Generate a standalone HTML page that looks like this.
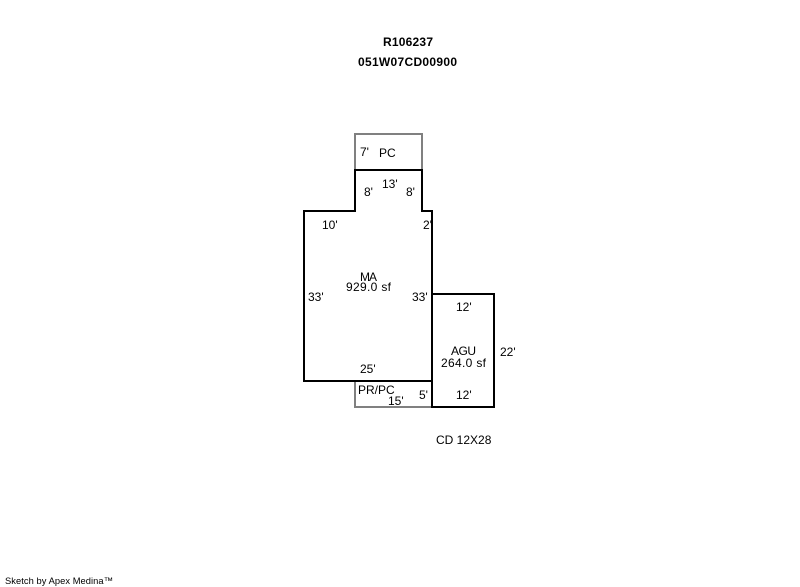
<!DOCTYPE html>
<html>
<head>
<meta charset="utf-8">
<style>
html,body{margin:0;padding:0;background:#fff;}
body{width:800px;height:587px;overflow:hidden;position:relative;}
svg{position:absolute;left:0;top:0;}
text{font-family:"Liberation Sans",Arial,sans-serif;font-size:12px;fill:#000;}
</style>
</head>
<body>
<svg width="800" height="587" viewBox="0 0 800 587" xmlns="http://www.w3.org/2000/svg">
<g fill="none" stroke="#808080" stroke-width="2" shape-rendering="crispEdges">
<path d="M355 170V134H422V170"/>
<path d="M355 381V407H432"/>
</g>
<g fill="none" stroke="#000" stroke-width="2" shape-rendering="crispEdges">
<path d="M355 170H422V211H432V381H304V211H355Z"/>
<path d="M432 294H494V407H432Z"/>
</g>
<text x="383" y="46" textLength="50" lengthAdjust="spacing" style="font-weight:bold">R106237</text>
<text x="358" y="66" textLength="99" lengthAdjust="spacing" style="font-weight:bold">051W07CD00900</text>
<text x="360" y="156">7'</text>
<text x="379" y="157">PC</text>
<text x="382" y="188">13'</text>
<text x="364" y="196">8'</text>
<text x="406" y="196">8'</text>
<text x="322" y="229">10'</text>
<text x="423" y="229">2'</text>
<text x="360" y="281" textLength="17" lengthAdjust="spacing">MA</text>
<text x="346" y="291" textLength="45" lengthAdjust="spacing">929.0 sf</text>
<text x="308" y="301">33'</text>
<text x="412" y="301">33'</text>
<text x="456" y="311">12'</text>
<text x="451" y="355" textLength="25" lengthAdjust="spacing">AGU</text>
<text x="441" y="367" textLength="45" lengthAdjust="spacing">264.0 sf</text>
<text x="500" y="356">22'</text>
<text x="360" y="373">25'</text>
<text x="358" y="394">PR/PC</text>
<text x="388" y="405">15'</text>
<text x="419" y="399">5'</text>
<text x="456" y="399">12'</text>
<text x="436" y="444">CD 12X28</text>
<text x="5" y="584" textLength="108" lengthAdjust="spacing" style="font-size:9.33px">Sketch by Apex Medina™</text>
</svg>
</body>
</html>
